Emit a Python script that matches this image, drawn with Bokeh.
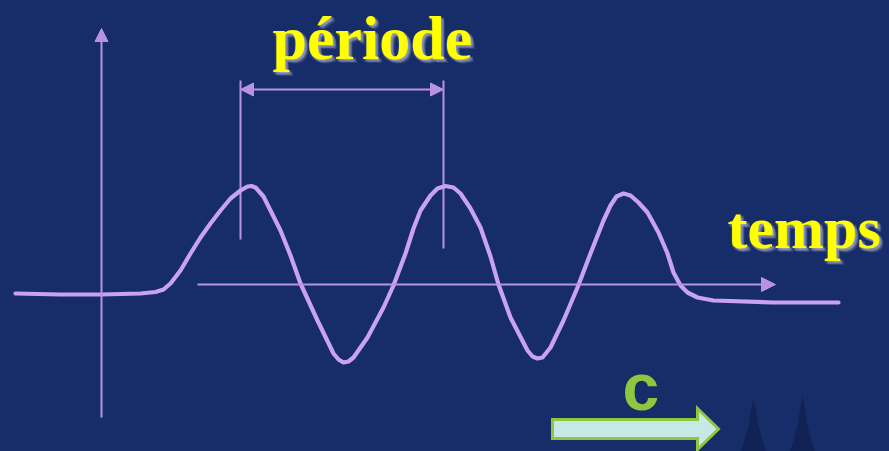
from bokeh.plotting import figure
from bokeh.models import Range1d, Arrow, NormalHead, ColumnDataSource
from bokeh.core.properties import value
from bokeh.embed import file_html
from bokeh.resources import INLINE

# ---- data: wave (time, amplitude in arbitrary units) ----
wave_t = [-8.6, -4.1, 0.0, 3.9, 5.4, 6.2, 6.9, 7.9, 8.9, 9.9, 10.9, 11.9, 12.9,
          13.9, 14.6, 15.0, 15.4, 16.2, 16.9, 17.9, 18.9, 19.9, 21.6, 23.2, 23.7, 24.2,
          24.7, 25.2, 26.6, 28.2, 29.2, 30.4, 31.2, 31.9, 32.9, 33.6, 34.4, 35.2,
          35.9, 36.9, 37.9, 38.9, 39.7, 40.9, 42.6, 43.1, 43.6, 44.1, 44.9, 46.2,
          47.6, 48.9, 50.2, 50.9, 51.5, 52.2, 52.9, 53.7, 54.6, 55.7, 56.6, 57.2,
          57.9, 58.6, 59.6, 61.2, 67.2, 73.7]
wave_a = [-0.9, -1.0, -1.0, -0.9, -0.75, -0.5, 0.1, 1.4, 3.1, 4.7, 6.1, 7.4, 8.6,
          9.4, 9.8, 9.85, 9.7, 8.8, 7.4, 5.4, 2.9, 0.1, -3.6, -6.9, -7.5, -7.8,
          -7.7, -7.3, -5.3, -2.3, -0.1, 3.1, 5.6, 7.4, 8.9, 9.6, 9.85, 9.7,
          9.1, 7.6, 5.7, 2.8, 0.0, -3.3, -6.6, -7.2, -7.4, -7.3, -6.3, -3.6,
          -0.3, 3.1, 6.4, 7.9, 8.8, 9.1, 8.9, 8.2, 7.2, 5.2, 3.1, 1.2,
          -0.1, -0.8, -1.3, -1.6, -1.8, -1.8]

period_marks = [13.9, 34.2]          # time of the two marked crests
labels = ["période", "temps", "c"]

# ---- styles / layout constants ----
BG = "#172d6a"
WAVE = "#c9a2f2"
AXIS = "#b892e4"
YELLOW = "#ffff00"
GREEN = "#8dc63f"
PALE = "#c6e9e6"
TXT_SHIFT = 2.1   # baseline correction for text rendering

p = figure(width=889, height=451, output_backend="svg", toolbar_location=None,
           x_range=Range1d(-10.1, 78.8), y_range=Range1d(-16.7, 28.4),
           x_axis_type=None, y_axis_type=None, min_border=0)
p.background_fill_color = BG
p.border_fill_color = BG
p.outline_line_color = None
p.xgrid.visible = False
p.ygrid.visible = False

try:
    from bokeh.models import GlobalInlineStyleSheet
    p.stylesheets = [GlobalInlineStyleSheet(css="body{background:%s;}" % BG)]
except Exception:
    pass

# dark spires at bottom right (background scenery)
SPIRE = "#0d1a47"
p.patch([65.2, 65.5, 65.7, 66.1, 66.5, 63.9, 64.3, 64.7, 64.9],
        [-11.3, -12.8, -14.1, -15.6, -16.8, -16.8, -15.6, -14.1, -12.8],
        fill_color=SPIRE, fill_alpha=0.6, line_color=None)
p.patch([70.1, 70.4, 70.6, 71.0, 71.4, 68.8, 69.2, 69.6, 69.8],
        [-11.1, -12.8, -14.1, -15.6, -16.8, -16.8, -15.6, -14.1, -12.8],
        fill_color=SPIRE, fill_alpha=0.6, line_color=None)

# vertical axis with arrow
p.add_layout(Arrow(end=NormalHead(size=13, fill_color=AXIS, line_color=AXIS, line_width=1),
                   x_start=0, y_start=-13.3, x_end=0, y_end=25.6,
                   line_color=AXIS, line_width=2))
# horizontal (time) axis with arrow
p.add_layout(Arrow(end=NormalHead(size=14, fill_color=AXIS, line_color=AXIS, line_width=1),
                   x_start=9.6, y_start=0, x_end=67.4, y_end=0,
                   line_color=AXIS, line_width=2))

# period marker lines
p.segment(x0=period_marks, y0=[20.4, 20.4], x1=period_marks, y1=[4.5, 3.6],
          line_color=AXIS, line_width=2)
# double arrow for the period
p.add_layout(Arrow(start=NormalHead(size=13, fill_color=AXIS, line_color=AXIS, line_width=1),
                   end=NormalHead(size=13, fill_color=AXIS, line_color=AXIS, line_width=1),
                   x_start=period_marks[0], y_start=19.5, x_end=period_marks[1], y_end=19.5,
                   line_color=AXIS, line_width=2))

# the wave
src = ColumnDataSource(dict(t=wave_t, a=wave_a))
p.line("t", "a", source=src, line_color=WAVE, line_width=4.2,
       line_join="round", line_cap="round")

# yellow labels with soft light halo
def glow_text(x, y, txt, size):
    y = y + TXT_SHIFT
    for dx, dy, al in [(3, 3, 0.18), (2, 2, 0.22), (4, 4, 0.12), (1, 3, 0.15), (3, 1, 0.15),
                       (-1, 1, 0.10), (1, 1, 0.10)]:
        p.text(x=[x], y=[y], text=[txt], text_font=value("Liberation Serif"),
               text_font_style="bold", text_font_size=size, text_color="#d8d8e8",
               text_alpha=al, text_baseline="alphabetic", x_offset=dx, y_offset=dy)
    p.text(x=[x], y=[y], text=[txt], text_font=value("Liberation Serif"),
           text_font_style="bold", text_font_size=size, text_color=YELLOW,
           text_baseline="alphabetic")

glow_text(17.1, 22.6, labels[0], "62px")
glow_text(62.6, 3.6, labels[1], "60px")

# wave speed c
p.text(x=[52.1], y=[-12.35 + TXT_SHIFT], text=[labels[2]], text_font=value("Liberation Sans"),
       text_font_style="bold", text_font_size="66px", text_color=GREEN,
       text_baseline="alphabetic")
p.patch([45.1, 59.6, 59.6, 61.7, 59.6, 59.6, 45.1],
        [-13.5, -13.5, -12.4, -14.45, -16.5, -15.4, -15.4],
        fill_color=PALE, line_color=GREEN, line_width=3, line_join="miter")

open("out.html", "w").write(file_html(p, INLINE))
